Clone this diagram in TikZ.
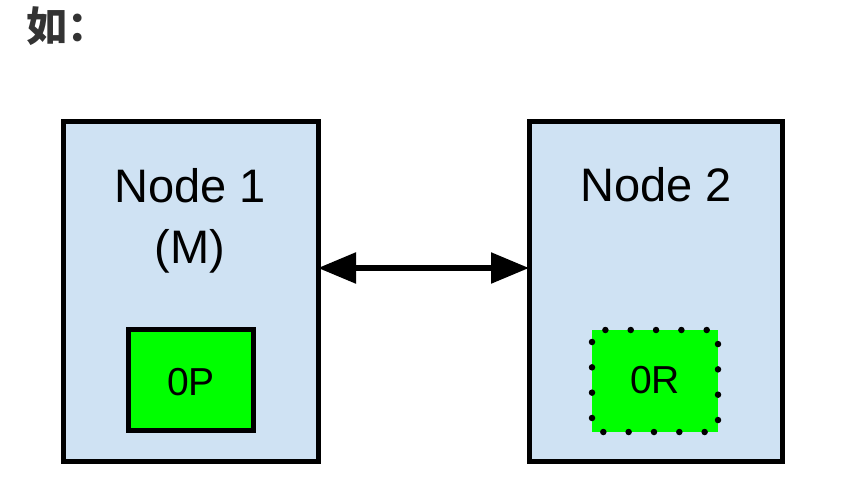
\documentclass[tikz,border=0pt]{standalone}
\usepackage{fontspec}
\setmainfont{Liberation Sans}
\newfontfamily\cjk{Noto Sans CJK SC}
\usetikzlibrary{arrows.meta}
\definecolor{boxblue}{HTML}{CFE2F3}
\definecolor{vivgreen}{HTML}{00FF00}
\definecolor{titlegray}{HTML}{333333}
\tikzset{
  nodebox/.style={draw=black, fill=boxblue, line width=5pt},
  solidbox/.style={draw=black, fill=vivgreen, line width=5pt},
  dotbox/.style={draw=black, fill=vivgreen, line width=6.5pt, line cap=round, dash pattern=on 0pt off 25.33pt, dash phase=-12pt},
  bigtext/.style={font=\fontsize{47}{56}\selectfont, anchor=base, inner sep=0pt},
  smalltext/.style={font=\fontsize{39}{46}\selectfont, anchor=base, inner sep=0pt},
  link/.style={line width=5.5pt, {Triangle[length=38pt,width=30pt]}-{Triangle[length=38pt,width=30pt]}}
}
\begin{document}
\begin{tikzpicture}[x=1pt,y=-1pt]
\useasboundingbox (0,0) rectangle (864,490);
\node[anchor=base west, inner sep=0pt, text=titlegray, font=\cjk\bfseries\fontsize{41}{48}\selectfont] (title) at (26,41) {如：};
% node 1
\path[nodebox] (63,121) rectangle (318,461);
\coordinate (n1east) at (318,268);
\node[bigtext] (n1a) at (190,202) {Node 1};
\node[bigtext] (n1b) at (190,263) {(M)};
\path[solidbox] (128.5,329.5) rectangle (253.5,430.5);
\node[smalltext] (op) at (191,395) {0P};
% node 2
\path[nodebox] (529,121) rectangle (782,461);
\coordinate (n2west) at (529,268);
\node[bigtext] (n2a) at (656,201) {Node 2};
\path[dotbox] (592,330) rectangle (718,432);
\node[smalltext] (or) at (655,393) {0R};
% connector
\draw[link] (n1east) -- (n2west);
\end{tikzpicture}
\end{document}
